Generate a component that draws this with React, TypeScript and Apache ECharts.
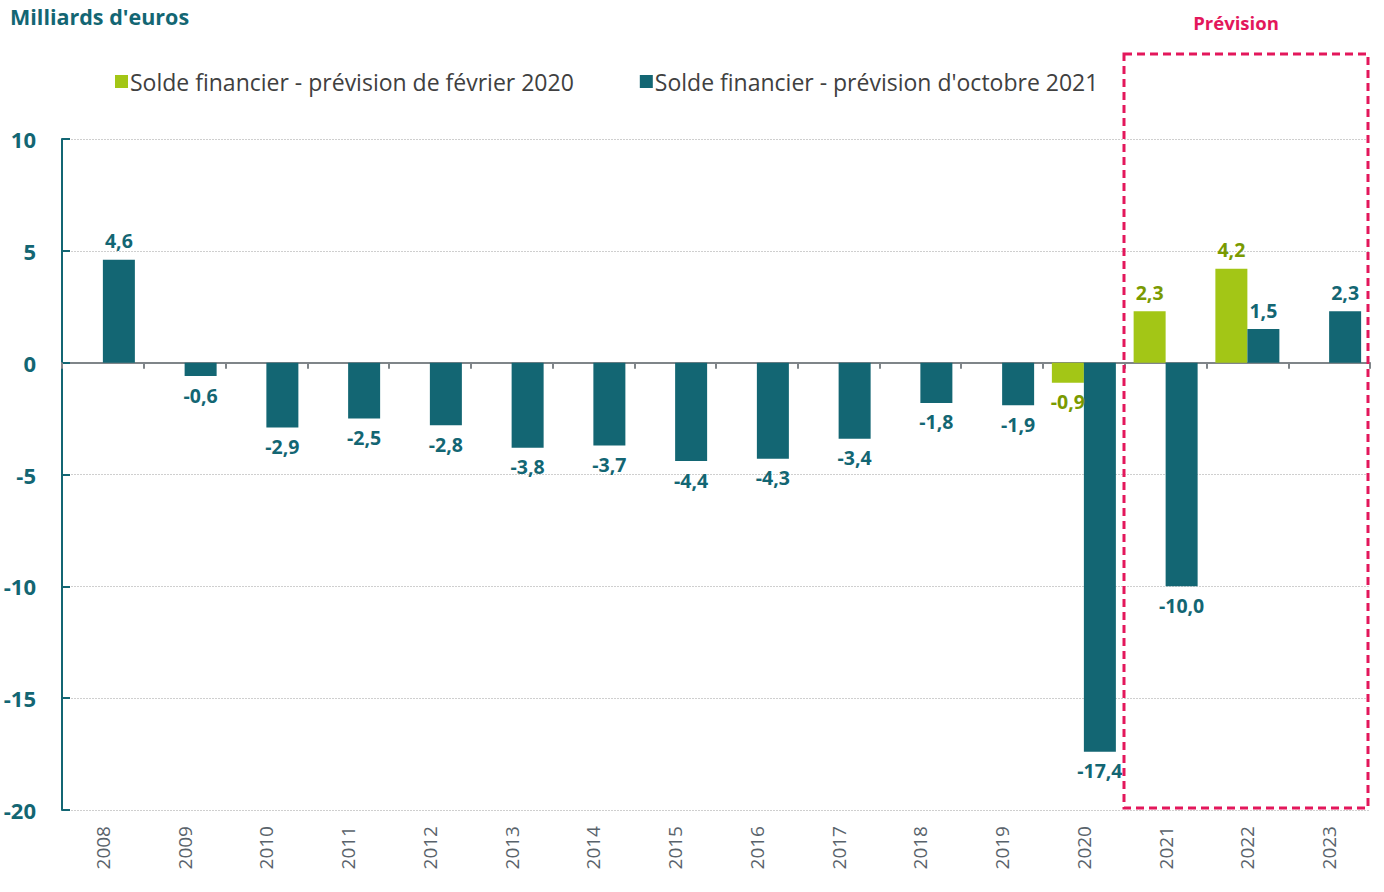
import React, { useEffect, useRef } from "react";
import * as echarts from "echarts";

const years = ["2008","2009","2010","2011","2012","2013","2014","2015","2016","2017","2018","2019","2020","2021","2022","2023"];
const fevrier2020: (number | null)[] = [null,null,null,null,null,null,null,null,null,null,null,null,-0.9,2.3,4.2,null];
const octobre2021: (number | null)[] = [4.6,-0.6,-2.9,-2.5,-2.8,-3.8,-3.7,-4.4,-4.3,-3.4,-1.8,-1.9,-17.4,-10.0,1.5,2.3];
const yTicks = { min: -20, max: 10, interval: 5 };
const seriesNames = ["Solde financier - prévision de février 2020", "Solde financier - prévision d'octobre 2021"];

const TEAL = "#136673";
const GREEN = "#a3c616";
const GREEN_LABEL = "#7a9a01";
const CRIMSON = "#e3175b";
const FONT = "Open Sans";

const fmt = (v: number) => v.toFixed(1).replace(".", ",");

const toData = (arr: (number | null)[]) =>
  arr.map((v) =>
    v === null
      ? null
      : { value: v, label: { position: v < 0 ? "bottom" : "top" } }
  );

export default function App() {
  const ref = useRef<HTMLDivElement>(null);
  useEffect(() => {
    document.body.style.margin = "0";
    const chart = echarts.init(ref.current!, undefined, { renderer: "svg" });
    const labelCommon = {
      show: true,
      fontFamily: FONT,
      fontWeight: "bold" as const,
      fontSize: 19.5,
      distance: 9,
      formatter: (p: any) => fmt(p.value),
    };
    chart.setOption({
      animation: false,
      textStyle: { fontFamily: FONT },
      grid: { left: 62, right: 14, top: 139, bottom: 82, containLabel: false },
      legend: {
        left: 110,
        top: 65,
        itemWidth: 13,
        itemHeight: 13,
        itemGap: 66,
        icon: "rect",
        textStyle: { fontFamily: FONT, fontSize: 23, color: "#404040", padding: [0, 0, 0, -3] },
        data: seriesNames,
      },
      graphic: [
        {
          type: "text",
          left: 10,
          top: 5,
          style: { text: "Milliards d'euros", font: `bold 21.5px ${FONT}`, fill: TEAL },
        },
        {
          type: "text",
          x: 1236,
          y: 22,
          style: { text: "Prévision", font: `bold 18.5px ${FONT}`, fill: CRIMSON, align: "center", verticalAlign: "middle" },
        },
        {
          type: "rect",
          shape: { x: 1124, y: 54, width: 244, height: 754 },
          style: { fill: "none", stroke: CRIMSON, lineWidth: 3, lineDash: [8, 5] },
          z: 100,
        },
      ],
      xAxis: [
        {
          type: "category",
          data: years,
          position: "bottom",
          axisLine: { show: false, onZero: false },
          axisTick: { show: false },
          axisLabel: { interval: 0, rotate: 90, margin: 16, fontFamily: FONT, fontSize: 19, color: "#59636b" },
        },
        {
          type: "category",
          data: years,
          position: "top",
          axisLine: { show: true, onZero: true, lineStyle: { color: "#7f8589", width: 2 } },
          axisTick: { show: true, inside: true, length: 6, interval: 0, lineStyle: { color: "#7f8589", width: 2 } },
          axisLabel: { show: false },
          splitLine: { show: false },
        },
      ],
      yAxis: {
        type: "value",
        min: yTicks.min,
        max: yTicks.max,
        interval: yTicks.interval,
        axisLine: { show: true, lineStyle: { color: TEAL, width: 2 } },
        axisTick: { show: true, inside: true, length: 8, lineStyle: { color: TEAL, width: 2 } },
        axisLabel: { margin: 26, fontFamily: FONT, fontWeight: "bold", fontSize: 22, color: TEAL },
        splitLine: { show: true, lineStyle: { color: "#cfcfcf", width: 1, type: [2, 1] } },
      },
      series: [
        {
          name: seriesNames[0],
          type: "bar",
          xAxisIndex: 0,
          data: toData(fevrier2020),
          barWidth: 32,
          barGap: "0%",
          itemStyle: { color: GREEN },
          label: { ...labelCommon, color: GREEN_LABEL },
        },
        {
          name: seriesNames[1],
          type: "bar",
          xAxisIndex: 0,
          data: toData(octobre2021),
          barWidth: 32,
          barGap: "0%",
          itemStyle: { color: TEAL },
          label: { ...labelCommon, color: TEAL },
        },
      ],
    });
    return () => chart.dispose();
  }, []);
  return <div ref={ref} style={{ width: 1384, height: 892 }} />;
}
